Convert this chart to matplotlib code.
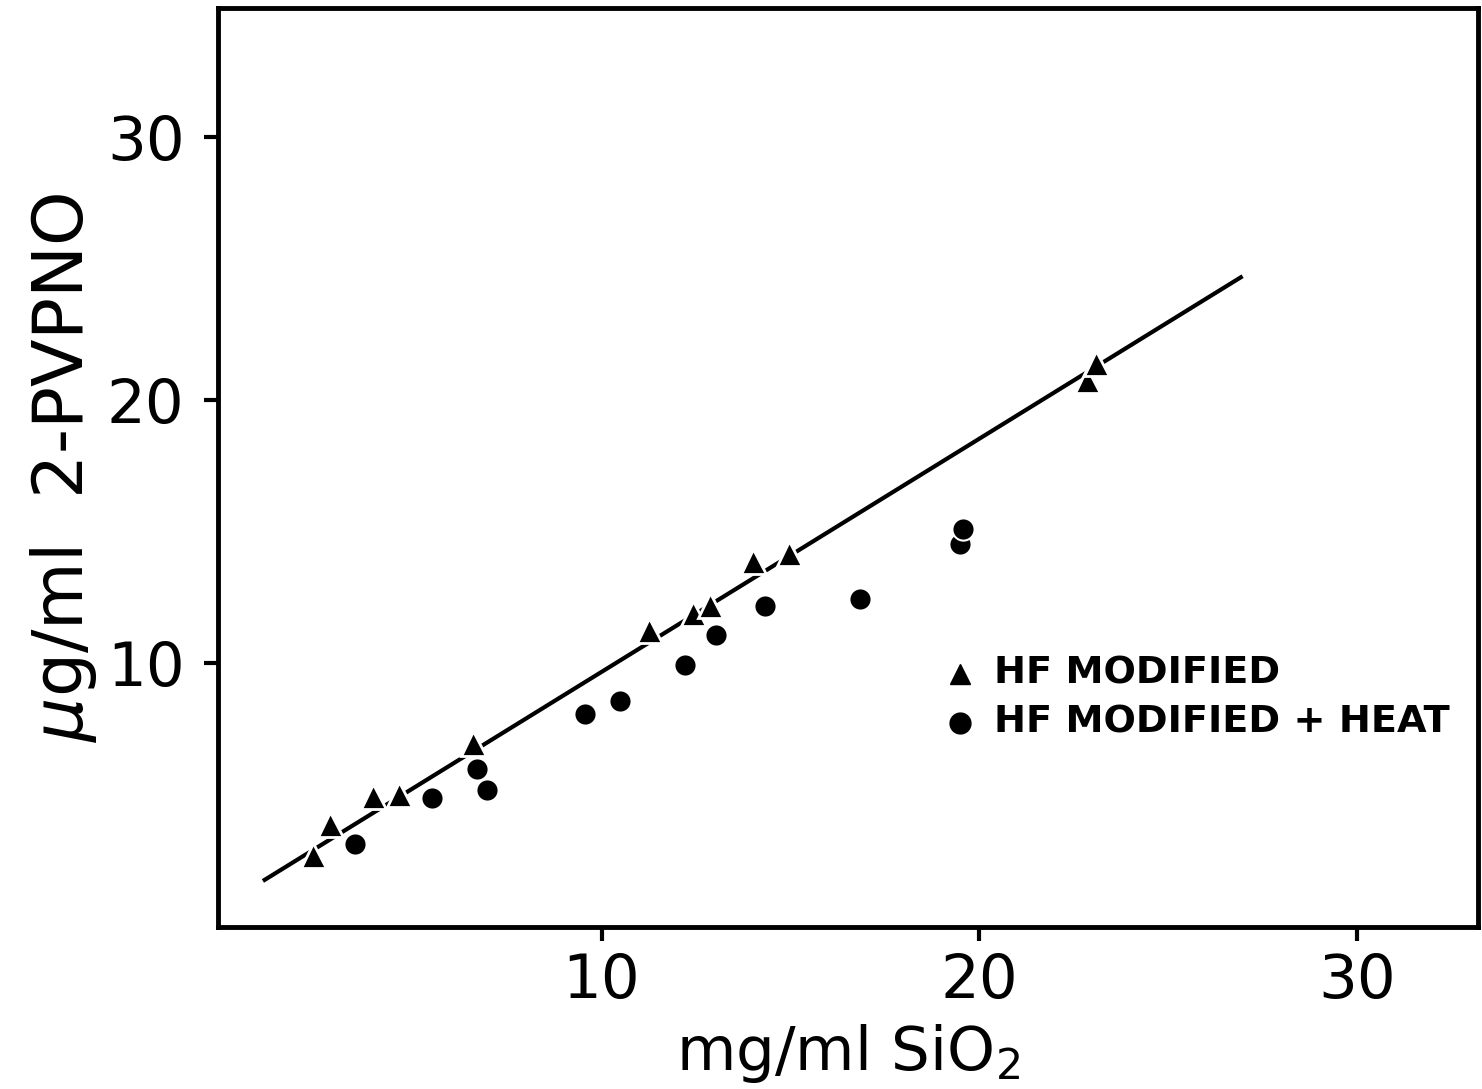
import matplotlib
matplotlib.use('Agg')
import matplotlib.pyplot as plt
import numpy as np

# HF modified (triangles)
tri_x = [2.35, 2.8, 3.94, 4.63, 6.61, 11.27, 12.43, 12.88, 14.0, 14.97, 22.86, 23.1]
tri_y = [2.73, 3.9, 4.96, 5.04, 6.97, 11.25, 11.93, 12.2, 13.9, 14.2, 20.76, 21.4]

# HF modified + heat (circles)
circ_x = [3.47, 5.5, 6.69, 6.98, 9.55, 10.48, 12.2, 13.04, 14.34, 16.85, 19.5, 19.58]
circ_y = [3.14, 4.89, 5.98, 5.19, 8.07, 8.56, 9.92, 11.06, 12.16, 12.46, 14.55, 15.11]

# fitted line
fit_x = [1.08, 26.93]
fit_y = [1.78, 24.66]

plt.rcParams['font.family'] = ['DejaVu Sans']

fig = plt.figure(figsize=(14.82, 10.89), dpi=100)
ax = fig.add_axes([0.147, 0.149, 0.85, 0.844])

ax.plot(fit_x, fit_y, color='black', lw=3, zorder=1)
ax.plot(tri_x, tri_y, linestyle='none', marker='^', ms=18, color='black',
        mec='white', mew=2, zorder=2)
ax.plot(circ_x, circ_y, linestyle='none', marker='o', ms=16, color='black',
        mec='white', mew=1.5, zorder=2)

ax.set_xlim(-0.16, 33.2)
ax.set_ylim(0.0, 34.9)
ax.set_xticks([10, 20, 30])
ax.set_yticks([10, 20, 30])
ax.tick_params(direction='out', length=10, width=3, labelsize=44)
ax.tick_params(axis='y', pad=14)
ax.tick_params(axis='x', pad=8)
for s in ax.spines.values():
    s.set_linewidth(3.5)

ax.set_xlabel('mg/ml SiO$_2$', fontsize=44, labelpad=8)
ax.set_ylabel('$\\mu$g/ml  2-PVPNO', fontsize=50, labelpad=6)

# legend drawn as text with markers
ax.plot([19.5], [9.6], linestyle='none', marker='^', ms=15, color='black')
ax.plot([19.5], [7.75], linestyle='none', marker='o', ms=15, color='black')
ax.text(20.4, 9.6, 'HF MODIFIED', fontsize=27.5, fontweight='bold', va='center')
ax.text(20.4, 7.75, 'HF MODIFIED + HEAT', fontsize=27.5, fontweight='bold', va='center')

fig.savefig('out.png', dpi=100)
